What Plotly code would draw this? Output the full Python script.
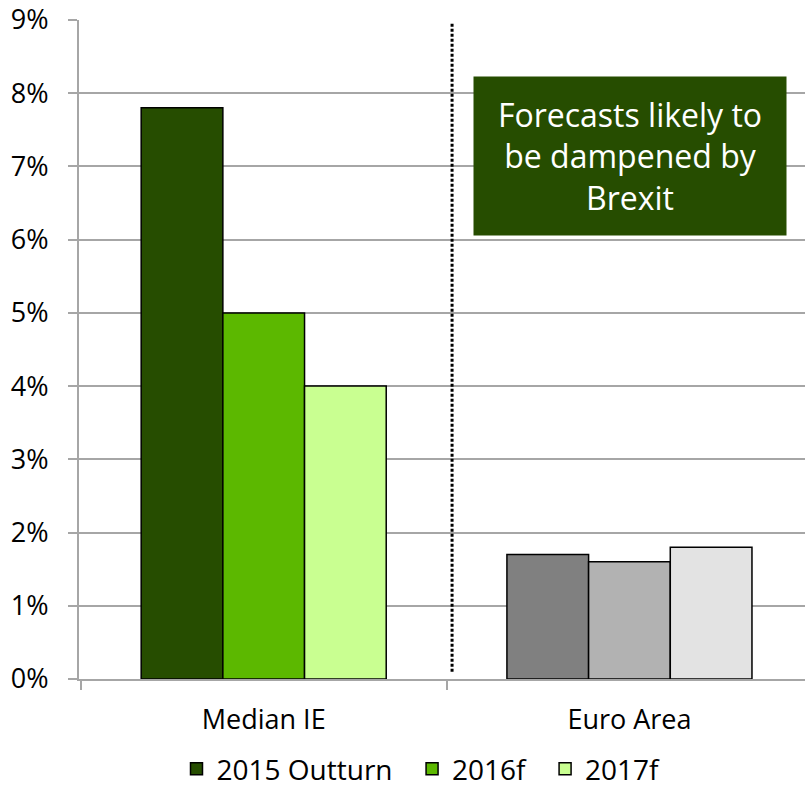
import plotly.graph_objects as go

categories = ["Median IE", "Euro Area"]
series_names = ["2015 Outturn", "2016f", "2017f"]
values_2015 = [7.8, 1.7]
values_2016 = [5.0, 1.6]
values_2017 = [4.0, 1.8]
colors_2015 = ["#264D00", "#808080"]
colors_2016 = ["#5CB800", "#B2B2B2"]
colors_2017 = ["#C9FF91", "#E3E3E3"]
y_ticks = [0, 1, 2, 3, 4, 5, 6, 7, 8, 9]
y_ticklabels = [f"{v}%" for v in y_ticks]

FONT = "Open Sans"
PAD = "\u00a0\u00a0"
fig = go.Figure()
for i, (name, vals, cols) in enumerate([(series_names[0], values_2015, colors_2015),
                                        (series_names[1], values_2016, colors_2016),
                                        (series_names[2], values_2017, colors_2017)]):
    label = name + (PAD if i < 2 else "")
    fig.add_trace(go.Bar(x=categories, y=vals, name=label,
                         marker=dict(color=cols, line=dict(color="black", width=1.5))))

fig.add_shape(type="line", xref="x", yref="y", x0=0.515, x1=0.515, y0=0.1, y1=8.97,
              line=dict(color="black", width=3, dash="3px,2px"))

fig.add_annotation(xref="paper", yref="paper", x=(630 - 79) / 726, y=(679 - 156) / 659,
                   text="Forecasts likely to<br>be dampened by<br>Brexit", showarrow=False,
                   font=dict(family=FONT, size=32, color="white"),
                   bgcolor="#264D00", width=310, height=156, align="center",
                   xanchor="center", yanchor="middle")

fig.update_layout(
    width=805, height=794,
    margin=dict(l=79, r=0, t=20, b=115, autoexpand=False),
    barmode="group", bargap=0.33, bargroupgap=0,
    plot_bgcolor="white", paper_bgcolor="white",
    font=dict(family=FONT, size=27, color="black"),
    showlegend=True,
    legend=dict(orientation="h", x=(421 - 79) / 726, xanchor="center",
                yref="container", y=0.0, yanchor="bottom",
                font=dict(size=28), itemwidth=30, traceorder="normal"),
    xaxis=dict(range=[-0.505, 1.48], showline=True, linecolor="#A6A6A6", linewidth=2,
               ticks="outside", tickson="boundaries", ticklen=9, tickcolor="#A6A6A6",
               tickwidth=2, tickfont=dict(size=27), ticklabelstandoff=16, showgrid=False,
               automargin=False),
    yaxis=dict(range=[0, 9], tickvals=y_ticks, ticktext=y_ticklabels, showline=True,
               linecolor="#A6A6A6", linewidth=2, ticks="outside", ticklen=9,
               tickcolor="#A6A6A6", tickwidth=2, showgrid=True, gridcolor="#A6A6A6",
               gridwidth=2, tickfont=dict(size=27), zeroline=False, ticklabelstandoff=14,
               automargin=False),
)
fig.write_html("out.html")
